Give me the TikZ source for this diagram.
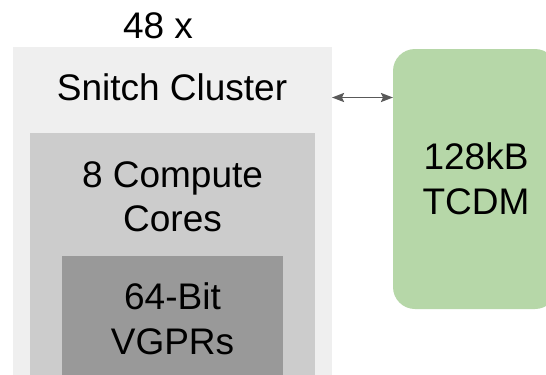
\documentclass[tikz,border=0pt]{standalone}
\usepackage{fontspec}
\setmainfont{Liberation Sans}
\usetikzlibrary{arrows.meta}
\definecolor{clusterbg}{HTML}{EFEFEF}
\definecolor{corebg}{HTML}{CCCCCC}
\definecolor{regbg}{HTML}{999999}
\definecolor{memgreen}{HTML}{B6D7A8}
\definecolor{linkgray}{HTML}{595959}
\tikzset{
  block/.style={inner sep=0pt, outer sep=0pt},
  label/.style={inner sep=0pt, align=center, font=\fontsize{37bp}{44.5bp}\selectfont},
  link/.style={draw=linkgray, line width=1.8bp, {Stealth[length=12bp,width=9bp,inset=2bp]}-{Stealth[length=12bp,width=9bp,inset=2bp]}}
}
\begin{document}
\begin{tikzpicture}[x=1bp,y=-1bp]
  \clip (0,0) rectangle (546,374);
  \fill[white] (0,0) rectangle (546,374);
  % nested boxes of the cluster, running past the lower edge
  \fill[clusterbg] (13,47) rectangle (332,390);
  \fill[corebg] (30,133) rectangle (315,390);
  \fill[regbg] (62,256) rectangle (283,390);
  % shared memory
  \node[block, fill=memgreen, rounded corners=22bp, minimum width=164bp, minimum height=260bp, anchor=north west] (tcdm) at (393,49) {};
  \coordinate (clusterR) at (332,97.5);
  \coordinate (tcdmL) at (tcdm.west |- clusterR);
  \draw[link] (clusterR) -- (tcdmL);
  % labels
  \node[label, anchor=base] (count) at (158,38) {48 x};
  \node[label, anchor=base] (cluster) at (172,100) {Snitch Cluster};
  \node[label] (cores) at (172.5,197) {8 Compute\\Cores};
  \node[label] (vgpr) at (172.5,319) {64-Bit\\VGPRs};
  \node[label] (mem) at (476,179) {128kB\\TCDM};
\end{tikzpicture}
\end{document}
